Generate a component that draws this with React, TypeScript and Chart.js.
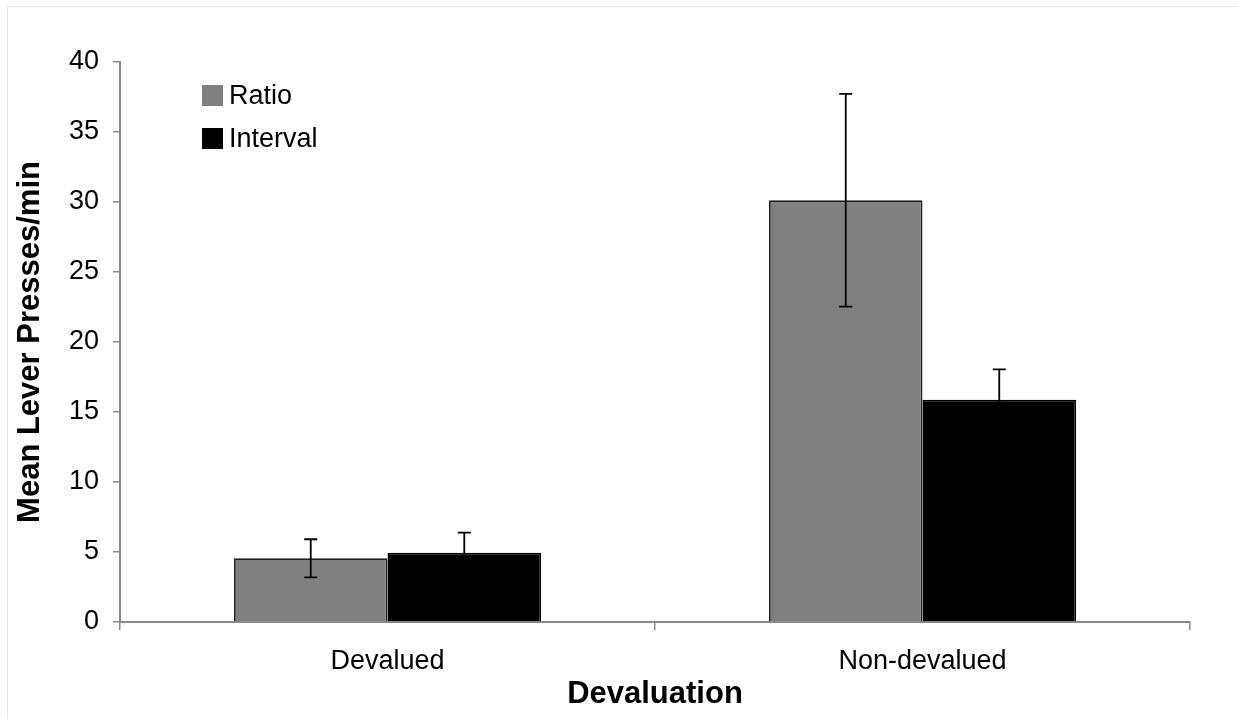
import React, { useEffect, useRef } from "react";
import { Chart, registerables } from "chart.js";

Chart.register(...registerables);

const categories = ["Devalued", "Non-devalued"];
const seriesNames = ["Ratio", "Interval"];
const ratioValues = [4.55, 30.12];
const intervalValues = [4.95, 15.88];
const ratioErrors = [1.36, 7.6];
const intervalErrors = [1.43, 2.17];
const yTicks = [0, 5, 10, 15, 20, 25, 30, 35, 40];

const FONT = "'Liberation Sans', Arial, Helvetica, sans-serif";

const errorBarPlugin = {
  id: "errorBars",
  afterDatasetsDraw(chart: any) {
    const ctx = chart.ctx;
    const yScale = chart.scales.y;
    chart.data.datasets.forEach((ds: any, i: number) => {
      const meta = chart.getDatasetMeta(i);
      const errs: number[] = ds.errors || [];
      meta.data.forEach((bar: any, j: number) => {
        const v = ds.data[j];
        const e = errs[j];
        if (e == null) return;
        const x = bar.x;
        const yHi = yScale.getPixelForValue(v + e);
        const yLo = yScale.getPixelForValue(v - e);
        const cap = 6.5;
        ctx.save();
        ctx.strokeStyle = "#000";
        ctx.lineWidth = 1.8;
        ctx.beginPath();
        ctx.moveTo(x, yHi);
        ctx.lineTo(x, yLo);
        ctx.moveTo(x - cap, yHi);
        ctx.lineTo(x + cap, yHi);
        ctx.moveTo(x - cap, yLo);
        ctx.lineTo(x + cap, yLo);
        ctx.stroke();
        ctx.restore();
      });
    });
  },
};

const legendPlugin = {
  id: "insideLegend",
  afterDraw(chart: any) {
    const ctx = chart.ctx;
    const area = chart.chartArea;
    const x0 = area.left + 82;
    const y0 = area.top + 23;
    const box = 21;
    const gap = 43;
    ctx.save();
    chart.data.datasets.forEach((ds: any, i: number) => {
      const y = y0 + i * gap;
      ctx.fillStyle = ds.backgroundColor;
      ctx.fillRect(x0, y, box, box);
      ctx.fillStyle = "#000";
      ctx.font = `27px ${FONT}`;
      ctx.textBaseline = "middle";
      ctx.textAlign = "left";
      ctx.fillText(ds.label, x0 + box + 6, y + box / 2 + 1);
    });
    ctx.restore();
  },
};

export default function App() {
  const canvasRef = useRef<HTMLCanvasElement | null>(null);

  useEffect(() => {
    if (!canvasRef.current) return;
    const chart = new Chart(canvasRef.current, {
      type: "bar",
      data: {
        labels: categories,
        datasets: [
          {
            label: seriesNames[0],
            data: ratioValues,
            errors: ratioErrors,
            backgroundColor: "#808080",
            borderColor: "#1e1e1e",
            borderWidth: 1.8,
            categoryPercentage: 0.574,
            barPercentage: 1,
          } as any,
          {
            label: seriesNames[1],
            data: intervalValues,
            errors: intervalErrors,
            backgroundColor: "#000000",
            borderColor: "#000000",
            borderWidth: 1.5,
            categoryPercentage: 0.574,
            barPercentage: 1,
          } as any,
        ],
      },
      options: {
        animation: false,
        responsive: true,
        maintainAspectRatio: false,
        layout: { padding: { top: 62, right: 48, left: 0, bottom: 0 } },
        plugins: {
          legend: { display: false },
          tooltip: { enabled: false },
        },
        scales: {
          x: {
            offset: true,
            grid: {
              offset: true,
              drawOnChartArea: false,
              drawTicks: true,
              tickLength: 8,
              color: "#8a8a8a",
              lineWidth: 1.5,
            },
            border: { color: "#8a8a8a", width: 2 },
            ticks: {
              color: "#000",
              font: { family: FONT, size: 27 },
              padding: 15,
              maxRotation: 0,
            },
            title: {
              display: true,
              text: "Devaluation",
              color: "#000",
              font: { family: FONT, size: 31, weight: "bold" },
              padding: { top: 0, bottom: 6 },
            },
            afterFit(scale: any) {
              scale.height = 97;
            },
          },
          y: {
            min: 0,
            max: 40,
            afterBuildTicks(scale: any) {
              scale.ticks = yTicks.map((v) => ({ value: v }));
            },
            grid: {
              drawOnChartArea: false,
              drawTicks: true,
              tickLength: 7,
              color: "#8a8a8a",
              lineWidth: 1.5,
            },
            border: { color: "#8a8a8a", width: 2 },
            ticks: {
              color: "#000",
              font: { family: FONT, size: 27 },
              padding: 14,
            },
            title: {
              display: true,
              text: "Mean Lever Presses/min",
              color: "#000",
              font: { family: FONT, size: 31, weight: "bold" },
              padding: { top: 12, bottom: 0 },
            },
            afterFit(scale: any) {
              scale.width = 120;
            },
          },
        },
      } as any,
      plugins: [errorBarPlugin, legendPlugin],
    });
    return () => chart.destroy();
  }, []);

  return (
    <div
      style={{
        position: "fixed",
        left: 0,
        top: 0,
        width: 1238,
        height: 719,
        background: "#fff",
      }}
    >
      <div
        style={{
          position: "absolute",
          left: 7,
          top: 6,
          right: 0,
          bottom: 0,
          borderTop: "1.5px solid #e6e6e6",
          borderLeft: "1.5px solid #e6e6e6",
        }}
      />
      <canvas ref={canvasRef} style={{ position: "absolute", left: 0, top: 0 }} />
    </div>
  );
}
